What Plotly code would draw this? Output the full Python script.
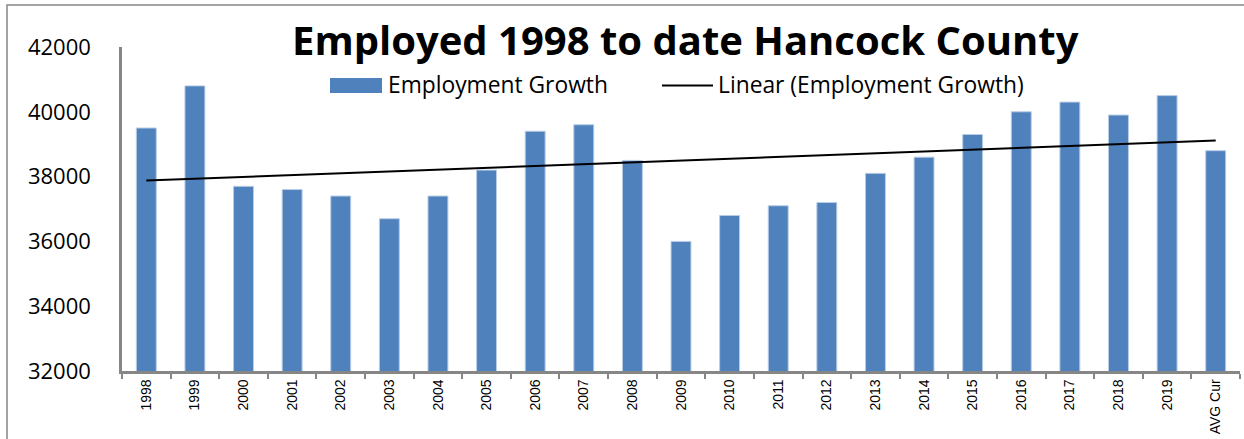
import numpy as np
import plotly.graph_objects as go

# Annual employment, Hancock County
years = ["1998", "1999", "2000", "2001", "2002", "2003", "2004", "2005",
         "2006", "2007", "2008", "2009", "2010", "2011", "2012", "2013",
         "2014", "2015", "2016", "2017", "2018", "2019", "AVG Cur"]
employed = [39500, 40800, 37700, 37600, 37400, 36700, 37400, 38200,
            39400, 39600, 38500, 36000, 36800, 37100, 37200, 38100,
            38600, 39300, 40000, 40300, 39900, 40500, 38800]
y_ticks = [32000, 34000, 36000, 38000, 40000, 42000]
y_tick_text = [str(v) for v in y_ticks]

# Least-squares linear trend over the category index
idx = np.arange(1, len(employed) + 1)
slope, intercept = np.polyfit(idx, employed, 1)
trend = slope * idx + intercept

W, H = 1244, 439
L, R, T, B = 122, 4, 47, 68
PW, PH = W - L - R, H - T - B


def px(x):
    return (x - L) / PW


def py(y):
    return (H - B - y) / PH


BLUE = "#4F81BD"
GRAY = "#868686"
FONT = "Open Sans"

fig = go.Figure()
fig.add_trace(go.Bar(
    x=years, y=employed, name="Employment Growth",
    marker=dict(color=BLUE, line=dict(color="#B9CDE5", width=1)),
    showlegend=False,
))
fig.add_trace(go.Scatter(
    x=years, y=trend, mode="lines", name="Linear (Employment Growth)",
    line=dict(color="black", width=2), showlegend=False,
))

fig.update_layout(
    width=W, height=H,
    margin=dict(l=L, r=R, t=T, b=B),
    paper_bgcolor="white", plot_bgcolor="white",
    bargap=0.59,
    font=dict(family=FONT, color="black"),
)
fig.update_xaxes(
    type="category",
    showline=True, linecolor=GRAY, linewidth=2.5,
    ticks="outside", tickson="boundaries", ticklen=5, tickcolor=GRAY, tickwidth=2,
    tickangle=-90, tickfont=dict(family="Liberation Sans", size=14),
    showgrid=False, zeroline=False,
)
fig.update_yaxes(
    range=[32000, 42000], tickvals=y_ticks, ticktext=y_tick_text,
    showline=True, linecolor=GRAY, linewidth=2.5,
    ticks="", showgrid=False, zeroline=False,
    tickfont=dict(family=FONT, size=22), ticklabelstandoff=24,
)

shapes = [
    # chart frame
    dict(type="rect", xref="paper", yref="paper",
         x0=px(7), x1=px(W + 10), y0=py(5), y1=py(H + 10),
         line=dict(color=GRAY, width=1.5), fillcolor="rgba(0,0,0,0)", layer="below"),
    # legend swatches
    dict(type="rect", xref="paper", yref="paper",
         x0=px(330), x1=px(382), y0=py(93), y1=py(78),
         line=dict(width=0), fillcolor=BLUE),
    dict(type="line", xref="paper", yref="paper",
         x0=px(662), x1=px(713), y0=py(85.5), y1=py(85.5),
         line=dict(color="black", width=2)),
]

annotations = [
    dict(text="<b>Employed 1998 to date Hancock County</b>",
         xref="paper", yref="paper", x=px(685), y=py(40),
         xanchor="center", yanchor="middle", showarrow=False,
         font=dict(family=FONT, size=40, color="black")),
    dict(text="Employment Growth", xref="paper", yref="paper",
         x=px(386), y=py(85), xanchor="left", yanchor="middle", showarrow=False,
         font=dict(family=FONT, size=22.8, color="black")),
    dict(text="Linear (Employment Growth)", xref="paper", yref="paper",
         x=px(716), y=py(85), xanchor="left", yanchor="middle", showarrow=False,
         font=dict(family=FONT, size=22.8, color="black")),
]

fig.update_layout(shapes=shapes, annotations=annotations)
fig.write_html("out.html")
